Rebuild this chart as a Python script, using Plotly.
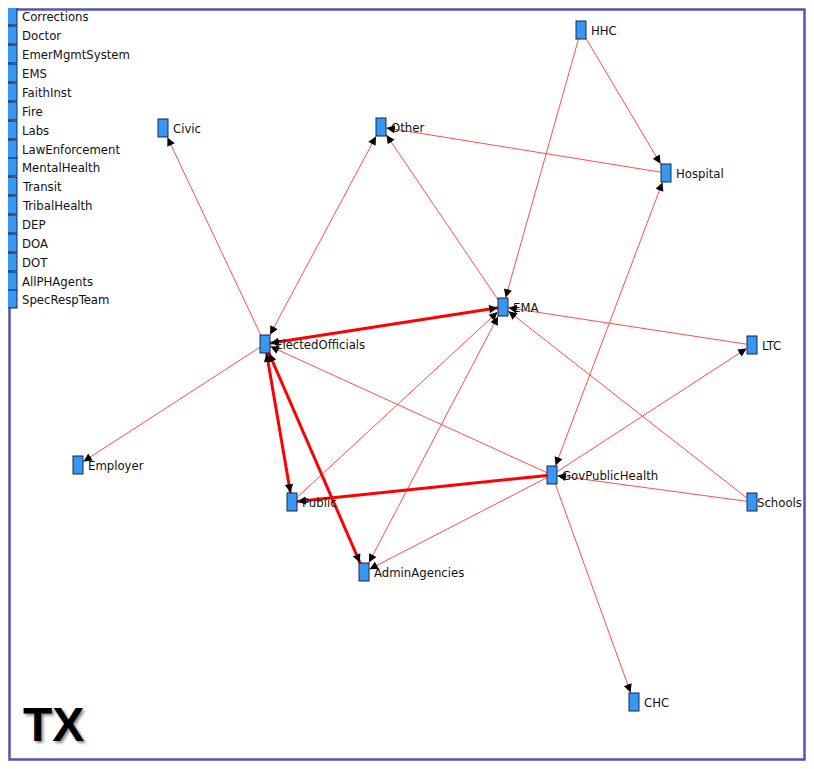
import math
import plotly.graph_objects as go

# ---------------- data ----------------
# isolates (listed in a column at top-left)
iso_names = ["Corrections", "Doctor", "EmerMgmtSystem", "EMS", "FaithInst", "Fire",
             "Labs", "LawEnforcement", "MentalHealth", "Transit", "TribalHealth",
             "DEP", "DOA", "DOT", "AllPHAgents", "SpecRespTeam"]
iso_x = [12] * 16
iso_y = [16, 35, 54, 73, 92, 111, 130, 149, 167, 186, 205, 224, 243, 262, 281, 299]

# connected nodes (layout positions)
node_names = ["Civic", "Other", "HHC", "Hospital", "EMA", "ElectedOfficials", "LTC",
              "Employer", "GovPublicHealth", "Public", "Schools", "AdminAgencies", "CHC"]
node_x = [163, 381, 581, 666, 503, 265, 752, 78, 552, 292, 752, 364, 634]
node_y = [128, 127, 30, 173, 307, 344, 345, 465, 475, 502, 502, 572, 702]

# directed ties: source, target, strength (1 = weak, 3 = strong)
edge_src = ["ElectedOfficials", "ElectedOfficials", "Other", "EMA", "Hospital", "HHC", "HHC",
            "ElectedOfficials", "EMA", "ElectedOfficials", "ElectedOfficials", "Public",
            "ElectedOfficials", "AdminAgencies", "GovPublicHealth", "Public", "EMA",
            "AdminAgencies", "LTC", "Schools", "GovPublicHealth", "Schools",
            "GovPublicHealth", "Hospital", "GovPublicHealth", "GovPublicHealth",
            "GovPublicHealth"]
edge_dst = ["Civic", "Other", "ElectedOfficials", "Other", "Other", "Hospital", "EMA",
            "EMA", "ElectedOfficials", "Employer", "Public", "ElectedOfficials",
            "AdminAgencies", "ElectedOfficials", "ElectedOfficials", "EMA", "AdminAgencies",
            "EMA", "EMA", "EMA", "LTC", "GovPublicHealth",
            "Hospital", "GovPublicHealth", "CHC", "Public",
            "AdminAgencies"]
edge_w = [1, 1, 1, 1, 1, 1, 1,
          3, 3, 1, 3, 3,
          3, 3, 1, 1, 1,
          1, 1, 1, 1, 1,
          1, 1, 1, 3,
          1]

TITLE = "TX"

# ---------------- build ----------------
W, H = 814, 769
PAD = 8  # page body margin in the browser
FIG_W, FIG_H = W - 2 * PAD, H - 2 * PAD
pos = {n: (x, y) for n, x, y in zip(node_names, node_x, node_y)}

fig = go.Figure()

# edges (draw each undirected pair once, strongest width)
pairs = {}
for s, t, w in zip(edge_src, edge_dst, edge_w):
    key = tuple(sorted((s, t)))
    pairs[key] = max(pairs.get(key, 0), w)

for wt, color, lw in [(1, "#ff4d4d", 1), (3, "#ff0000", 3)]:
    xs, ys = [], []
    for (a, b), w in pairs.items():
        if w == wt:
            xs += [pos[a][0], pos[b][0], None]
            ys += [pos[a][1], pos[b][1], None]
    fig.add_trace(go.Scatter(x=xs, y=ys, mode="lines",
                             line=dict(color=color, width=lw),
                             hoverinfo="skip", showlegend=False))

all_x = node_x + iso_x
all_y = node_y + iso_y
# node rectangles: dark outline then blue fill (vertical bar symbols; length = 1.4*size)
fig.add_trace(go.Scatter(x=all_x, y=all_y, mode="markers",
                         marker=dict(symbol="line-ns", size=13.6,
                                     line=dict(width=11, color="#1c2a44")),
                         hoverinfo="skip", showlegend=False))
fig.add_trace(go.Scatter(x=all_x, y=all_y, mode="markers",
                         marker=dict(symbol="line-ns", size=12.1,
                                     line=dict(width=9, color="#3797f5")),
                         hoverinfo="skip", showlegend=False))

annotations = []
# arrowheads
HW, HH = 5.5, 9.5
for s, t, w in zip(edge_src, edge_dst, edge_w):
    (xs_, ys_), (xt, yt) = pos[s], pos[t]
    dx, dy = xs_ - xt, ys_ - yt
    L = math.hypot(dx, dy)
    ux, uy = dx / L, dy / L
    so = min(HW / abs(ux) if ux else 1e9, HH / abs(uy) if uy else 1e9)
    tail = so + 10
    annotations.append(dict(x=xt, y=yt, xref="x", yref="y",
                            ax=ux * tail, ay=uy * tail, axref="pixel", ayref="pixel",
                            showarrow=True, arrowhead=2, arrowsize=1.1,
                            arrowwidth=1.5, arrowcolor="#000000",
                            standoff=so, text=""))

# node labels (shift kept so that each label stays inside the frame)
RIGHT_LIMIT = 801
for n, x, y in list(zip(node_names, node_x, node_y)) + list(zip(iso_names, iso_x, iso_y)):
    est_w = len(n) * 6.4
    shift = min(9, RIGHT_LIMIT - x - est_w)
    annotations.append(dict(x=x, y=y, xref="x", yref="y", text=n, showarrow=False,
                            xanchor="left", yanchor="middle", xshift=shift, borderpad=0,
                            font=dict(family="Liberation Sans Narrow, DejaVu Sans Condensed, Arial",
                                      size=13, color="#111111")))

annotations.append(dict(x=21, y=753, xref="x", yref="y", text="<b>" + TITLE + "</b>",
                        showarrow=False, xanchor="left", yanchor="bottom",
                        font=dict(family="Liberation Sans, Arial", size=48, color="#000000",
                                  shadow="2px 2px 3px #888888")))

fig.update_layout(
    width=FIG_W, height=FIG_H, autosize=False,
    margin=dict(l=0, r=0, t=0, b=0),
    paper_bgcolor="white", plot_bgcolor="white",
    xaxis=dict(range=[PAD, PAD + FIG_W], visible=False, fixedrange=True),
    yaxis=dict(range=[PAD + FIG_H, PAD], visible=False, fixedrange=True),
    annotations=annotations,
    shapes=[dict(type="rect", xref="x", yref="y", x0=9.5, y0=9.5, x1=804.5, y1=759.5,
                 line=dict(color="#5454b4", width=2.5), fillcolor="rgba(0,0,0,0)",
                 layer="below")],
    showlegend=False,
)

fig.write_html("out.html")
